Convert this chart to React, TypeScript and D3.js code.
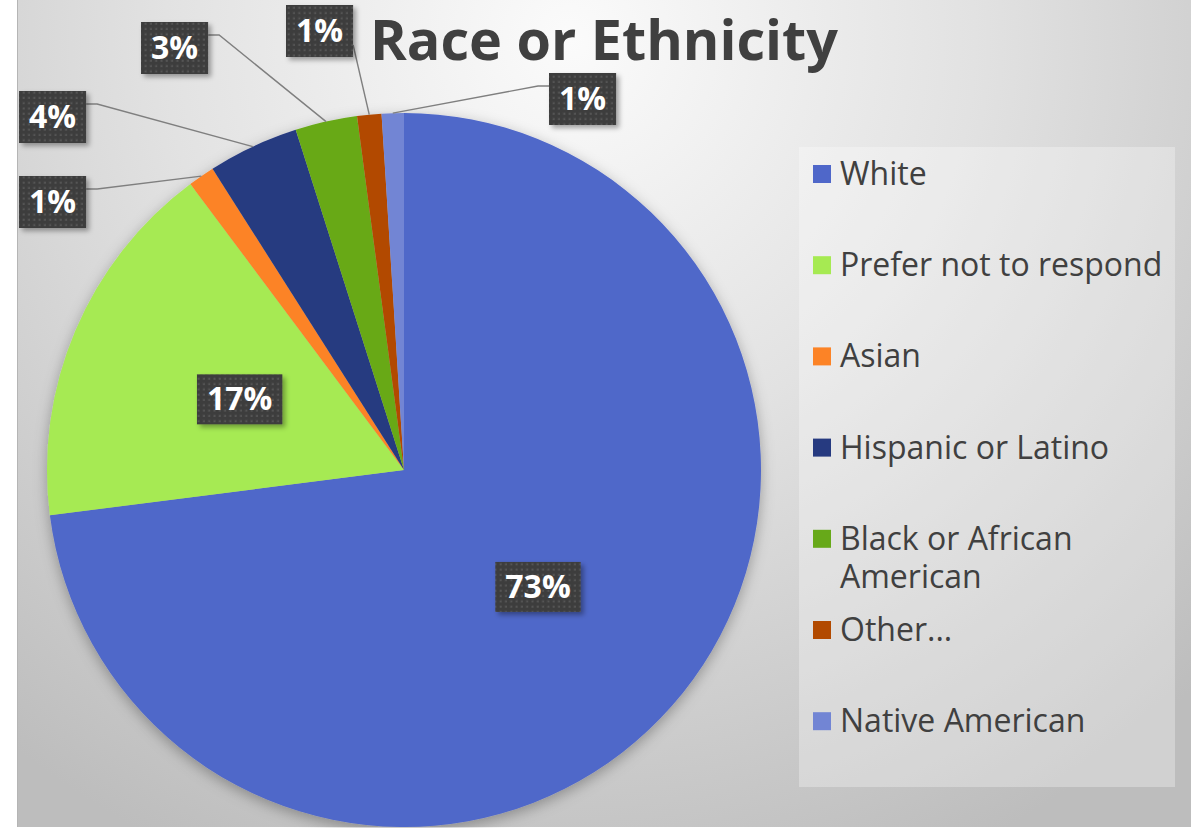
import * as React from 'react';
import * as d3 from 'd3';

const title = 'Race or Ethnicity';
const categories = ['White', 'Prefer not to respond', 'Asian', 'Hispanic or Latino', 'Black or African American', 'Other...', 'Native American'];
const shares = [72.9, 16.8, 1.2, 4.1, 2.8, 1.1, 1.0];
const colors = ['#4f67c9', '#a6ea52', '#fc8326', '#263a80', '#67a919', '#b24a00', '#7285d4'];
const legendLines = [['White'], ['Prefer not to respond'], ['Asian'], ['Hispanic or Latino'], ['Black or African', 'American'], ['Other...'], ['Native American']];

// callout boxes for the thin slices (top-left corner of the box), by slice index
const callouts: {[k: number]: {x: number; y: number; side: string}} = {
    2: {x: 19, y: 176, side: 'right'},
    3: {x: 19, y: 91, side: 'right'},
    4: {x: 141, y: 22, side: 'right'},
    5: {x: 286, y: 5, side: 'corner'},
    6: {x: 549, y: 73, side: 'left'},
};

const W = 1193;
const H = 828;
const cx = 404;
const cy = 470;
const radius = 357;
const labelFont = '"Open Sans", "DejaVu Sans", sans-serif';

function textWidth(txt: string, font: string): number {
    const c = document.createElement('canvas').getContext('2d');
    if (!c) return txt.length * 20;
    c.font = font;
    return c.measureText(txt).width;
}

function pct(v: number): string {
    return Math.round(v) + '%';
}

export default function App() {
    const pie = d3.pie<number>().sort(null).value((d) => d);
    const arcs = pie(shares);
    const arc = d3.arc<d3.PieArcDatum<number>>().innerRadius(0).outerRadius(radius);
    const inner = d3.arc<d3.PieArcDatum<number>>().innerRadius(radius * 0.5).outerRadius(radius * 0.5);
    const edge = d3.arc<d3.PieArcDatum<number>>().innerRadius(radius).outerRadius(radius);
    const legendY = d3.scaleLinear().domain([0, 1]).range([174, 265.2]);
    const boxH = 52;

    return (
        <svg width={W} height={H} style={{position: 'absolute', left: 0, top: 0, display: 'block'}}>
            <defs>
                <radialGradient id="bg" gradientUnits="userSpaceOnUse" cx={570} cy={40} r={900}>
                    <stop offset="0" stopColor="#fbfbfb"/>
                    <stop offset="0.45" stopColor="#e2e2e2"/>
                    <stop offset="1" stopColor="#bdbdbd"/>
                </radialGradient>
                <pattern id="dots" width={5.3} height={5.3} patternUnits="userSpaceOnUse">
                    <rect width={5.3} height={5.3} fill="#3e3e3e"/>
                    <rect x={1.5} y={1.5} width={2} height={2} fill="#555"/>
                </pattern>
                <filter id="pieShadow" x="-20%" y="-20%" width="140%" height="140%">
                    <feDropShadow dx={0} dy={4} stdDeviation={7} floodColor="#000" floodOpacity={0.3}/>
                </filter>
                <filter id="boxShadow" x="-20%" y="-20%" width="150%" height="150%">
                    <feDropShadow dx={3} dy={3} stdDeviation={2.5} floodColor="#000" floodOpacity={0.35}/>
                </filter>
            </defs>
            <rect x={0} y={0} width={W} height={H} fill="#fff"/>
            <rect x={17} y={0} width={1174} height={827} fill="url(#bg)"/>
            <line x1={17.5} y1={0} x2={17.5} y2={827} stroke="#b5b5b5" strokeWidth={1}/>

            <text x={370} y={60} fontFamily={labelFont} fontWeight={700} fontSize={55} fill="#404040"
                  textLength={468} lengthAdjust="spacingAndGlyphs">{title}</text>

            <g filter="url(#pieShadow)">
                {arcs.map((a, i) => (
                    <path key={i} d={arc(a) || ''} transform={`translate(${cx},${cy})`} fill={colors[i]}/>
                ))}
            </g>

            {arcs.map((a, i) => {
                const txt = pct(shares[i]);
                const font = `700 32px ${labelFont}`;
                const w = textWidth(txt, font) + 20;
                const co = callouts[i];
                if (!co) {
                    const [px, py] = inner.centroid(a);
                    const bx = cx + px - w / 2;
                    const by = cy + py - boxH / 2;
                    return (
                        <g key={'l' + i}>
                            <rect x={bx} y={by} width={w} height={boxH - 2} fill="url(#dots)" filter="url(#boxShadow)"/>
                            <text x={bx + w / 2} y={by + boxH / 2 + 10} textAnchor="middle" fontFamily={labelFont}
                                  fontWeight={700} fontSize={32} fill="#fff">{txt}</text>
                        </g>
                    );
                }
                const [ex, ey] = edge.centroid(a);
                const end: [number, number] = [cx + ex, cy + ey];
                let pts: [number, number][];
                if (co.side === 'right') {
                    pts = [[co.x + w, co.y + 13], [co.x + w + 11, co.y + 13], end];
                } else if (co.side === 'left') {
                    pts = [[co.x, co.y + 13], [co.x - 11, co.y + 13], end];
                } else {
                    pts = [[co.x + w, co.y + 40], end];
                }
                return (
                    <g key={'l' + i}>
                        <path d={d3.line()(pts) || ''} fill="none" stroke="#7f7f7f" strokeWidth={1.4}/>
                        <rect x={co.x} y={co.y} width={w} height={boxH} fill="url(#dots)" filter="url(#boxShadow)"/>
                        <text x={co.x + w / 2} y={co.y + boxH / 2 + 11} textAnchor="middle" fontFamily={labelFont}
                              fontWeight={700} fontSize={32} fill="#fff">{txt}</text>
                    </g>
                );
            })}

            <rect x={799} y={147} width={376} height={640} fill="#fff" fillOpacity={0.3}/>
            {categories.map((c, i) => {
                const y = legendY(i);
                return (
                    <g key={c}>
                        <rect x={813} y={y - 9} width={18} height={18} fill={colors[i]}/>
                        <text x={840} y={y + 11} fontFamily={labelFont} fontSize={32} fill="#404040">
                            {legendLines[i].map((ln, j) => (
                                <tspan key={j} x={840} dy={j === 0 ? 0 : 38}>{ln}</tspan>
                            ))}
                        </text>
                    </g>
                );
            })}
        </svg>
    );
}
